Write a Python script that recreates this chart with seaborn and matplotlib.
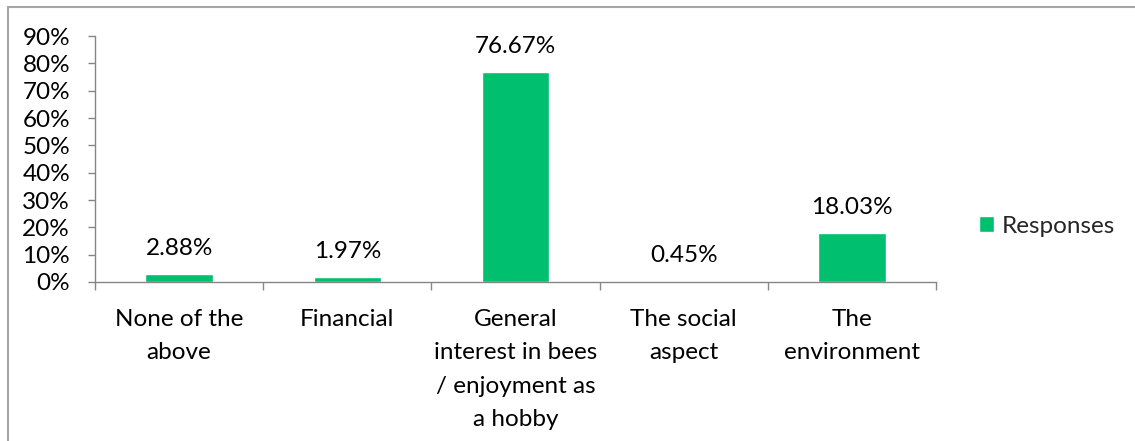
import matplotlib
matplotlib.use("Agg")
import matplotlib.pyplot as plt
from matplotlib.patches import Rectangle
from matplotlib.ticker import FixedLocator, PercentFormatter
import seaborn as sns
import pandas as pd

categories = [
    "None of the\nabove",
    "Financial",
    "General\ninterest in bees\n/ enjoyment as\na hobby",
    "The social\naspect",
    "The\nenvironment",
]
responses = [2.88, 1.97, 76.67, 0.45, 18.03]
y_ticks = [0, 10, 20, 30, 40, 50, 60, 70, 80, 90]
series_name = "Responses"

BAR = "#00BF6F"
AXIS = "#868686"
FONT = "Lato"
FS = 17.5

sns.set_theme(style="white")
plt.rcParams["font.family"] = [FONT, "DejaVu Sans"]

df = pd.DataFrame({"category": categories, "value": responses, "series": series_name})

W, H = 1135, 441
PT = 0.72  # points per pixel at 100 dpi
fig = plt.figure(figsize=(W / 100, H / 100), dpi=100)
fig.patch.set_facecolor("white")
ax = fig.add_axes([95 / W, 1 - 282 / H, (936 - 95) / W, (282 - 36) / H])

sns.barplot(data=df, x="category", y="value", hue="series", palette=[BAR],
            width=0.4, ax=ax, legend=True, saturation=1)

ax.set_xlim(-0.5, len(categories) - 0.5)
ax.set_ylim(0, 90)
ax.set_xlabel("")
ax.set_ylabel("")

# y axis
ax.yaxis.set_major_locator(FixedLocator(y_ticks))
ax.yaxis.set_major_formatter(PercentFormatter(decimals=0))
ax.tick_params(axis="y", which="major", direction="out", length=7 * PT, width=1,
               color=AXIS, labelsize=FS, pad=18 * PT, left=True, labelcolor="black")

# x axis: boundary ticks, labels centred under bars
ax.xaxis.set_major_locator(FixedLocator([i - 0.5 for i in range(len(categories) + 1)]))
ax.xaxis.set_minor_locator(FixedLocator(list(range(len(categories)))))
ax.set_xticklabels([""] * (len(categories) + 1))
ax.set_xticklabels(categories, minor=True)
ax.tick_params(axis="x", which="major", direction="out", length=8 * PT, width=1,
               color=AXIS, bottom=True)
ax.tick_params(axis="x", which="minor", length=0, labelsize=FS, pad=27 * PT,
               labelcolor="black")
for lbl in ax.get_xticklabels(minor=True):
    lbl.set_linespacing(1.73)
    lbl.set_verticalalignment("top")

for side in ["top", "right"]:
    ax.spines[side].set_visible(False)
for side in ["left", "bottom"]:
    ax.spines[side].set_color(AXIS)
    ax.spines[side].set_linewidth(1)

# value labels
for i, v in enumerate(responses):
    ax.text(i, v + 5.5, f"{v:.2f}%", ha="center", va="bottom", fontsize=FS,
            color="black")

# legend
handles, labels = ax.get_legend_handles_labels()
ax.legend(handles, labels, loc="center left", bbox_to_anchor=(979 / W, 1 - 226 / H),
          bbox_transform=fig.transFigure, frameon=False, fontsize=FS,
          handlelength=0.62, handleheight=0.62, handletextpad=0.3, borderpad=0,
          borderaxespad=0)

# chart border
fig.add_artist(Rectangle((8 / W, -0.05), 1.05, 1 - 6.5 / H + 0.05,
                         transform=fig.transFigure, fill=False,
                         edgecolor="#A6A6A6", linewidth=1.5))

fig.savefig("out.png", dpi=100, facecolor="white")
